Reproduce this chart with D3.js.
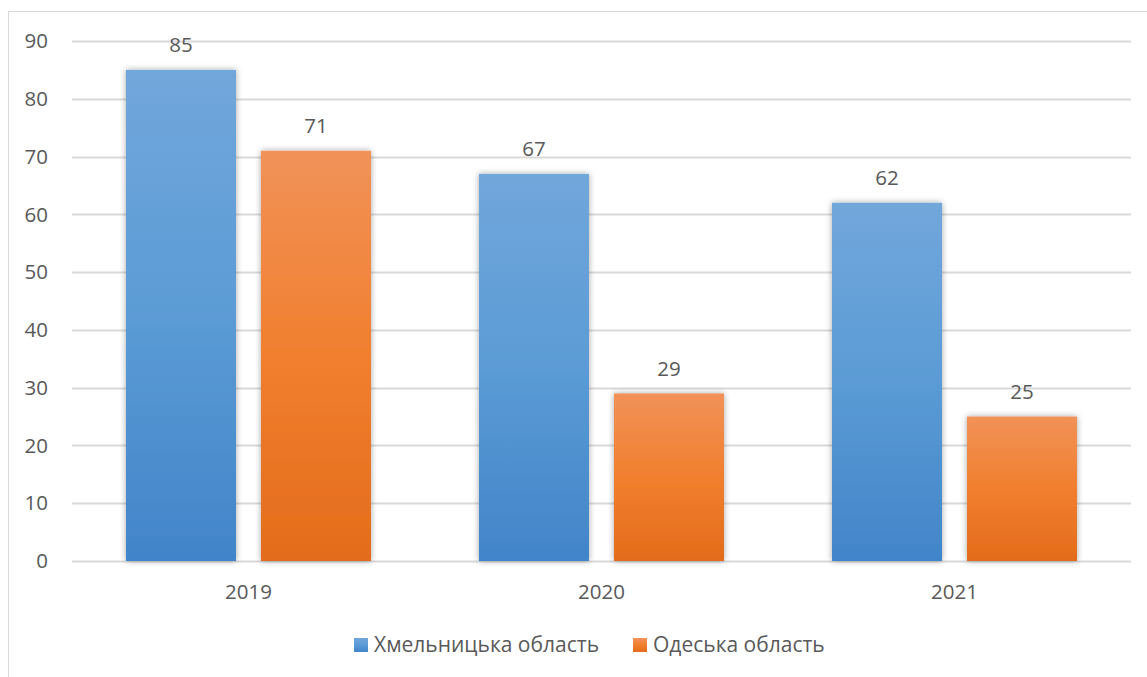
<!DOCTYPE html>
<html>
<head>
<meta charset="utf-8">
<script src="https://cdn.jsdelivr.net/npm/d3@7"></script>
<style>
  body { margin: 0; background: #fff; }
  text { font-family: "Open Sans", "Noto Sans", sans-serif; fill: #595959; }
</style>
</head>
<body>
<div id="chart"></div>
<script>
var years = ["2019", "2020", "2021"];
var seriesNames = ["Хмельницька область", "Одеська область"];
var khmelnytskyi = [85, 67, 62];
var odesa = [71, 29, 25];
var yTicks = [0, 10, 20, 30, 40, 50, 60, 70, 80, 90];

var width = 1147, height = 677;
var plotLeft = 72, plotRight = 1131, plotTop = 41, plotBottom = 561;

var svg = d3.select("#chart").append("svg")
  .attr("width", width)
  .attr("height", height);

var defs = svg.append("defs");

// gradients, light on top, darker at the base
var grads = [
  {id: "gBlue", top: "#71a7db", mid: "#5b9bd5", bot: "#4185c9"},
  {id: "gOrange", top: "#f19259", mid: "#f17f2e", bot: "#e36c1b"}
];
grads.forEach(function(g) {
  var lg = defs.append("linearGradient")
    .attr("id", g.id)
    .attr("x1", 0).attr("y1", 0).attr("x2", 0).attr("y2", 1);
  lg.append("stop").attr("offset", "0%").attr("stop-color", g.top);
  lg.append("stop").attr("offset", "50%").attr("stop-color", g.mid);
  lg.append("stop").attr("offset", "100%").attr("stop-color", g.bot);
});

var shadow = defs.append("filter")
  .attr("id", "shadow")
  .attr("x", "-20%").attr("y", "-10%")
  .attr("width", "140%").attr("height", "120%");
shadow.append("feDropShadow")
  .attr("dx", 0).attr("dy", 0)
  .attr("stdDeviation", 3)
  .attr("flood-color", "#000")
  .attr("flood-opacity", 0.35);

// outer frame (clipped right and bottom in the picture)
svg.append("rect")
  .attr("x", 8.5).attr("y", 11.5)
  .attr("width", 1160).attr("height", 700)
  .attr("fill", "none")
  .attr("stroke", "#d9d9d9")
  .attr("stroke-width", 1);

var y = d3.scaleLinear().domain([0, 90]).range([plotBottom, plotTop]);
var x0 = d3.scaleBand().domain(years).range([plotLeft, plotRight]).paddingInner(0).paddingOuter(0);
var x1 = d3.scaleBand().domain([0, 1]).range([54, x0.bandwidth() - 54]).paddingInner(25 / 135);

// gridlines
svg.append("g")
  .selectAll("line")
  .data(yTicks)
  .join("line")
  .attr("x1", plotLeft).attr("x2", plotRight)
  .attr("y1", function(d) { return Math.round(y(d)) + 0.5; })
  .attr("y2", function(d) { return Math.round(y(d)) + 0.5; })
  .attr("stroke", "#d9d9d9")
  .attr("stroke-width", 2);

// y axis labels
svg.append("g")
  .selectAll("text")
  .data(yTicks)
  .join("text")
  .attr("x", 48)
  .attr("y", function(d) { return y(d); })
  .attr("dy", "0.35em")
  .attr("text-anchor", "end")
  .style("font-size", "20.5px")
  .text(function(d) { return d; });

var allSeries = [khmelnytskyi, odesa];
var fills = ["url(#gBlue)", "url(#gOrange)"];

var groups = svg.append("g")
  .selectAll("g")
  .data(years)
  .join("g")
  .attr("transform", function(d) { return "translate(" + x0(d) + ",0)"; });

groups.selectAll("rect")
  .data(function(d, i) { return allSeries.map(function(s, j) { return {s: j, v: s[i]}; }); })
  .join("rect")
  .attr("x", function(d) { return x1(d.s); })
  .attr("y", function(d) { return y(d.v); })
  .attr("width", x1.bandwidth())
  .attr("height", function(d) { return y(0) - y(d.v); })
  .attr("fill", function(d) { return fills[d.s]; })
  .attr("filter", "url(#shadow)");

groups.selectAll("text.val")
  .data(function(d, i) { return allSeries.map(function(s, j) { return {s: j, v: s[i]}; }); })
  .join("text")
  .attr("class", "val")
  .attr("x", function(d) { return x1(d.s) + x1.bandwidth() / 2; })
  .attr("y", function(d) { return y(d.v) - 25; })
  .attr("dy", "0.35em")
  .attr("text-anchor", "middle")
  .style("font-size", "20.5px")
  .text(function(d) { return d.v; });

// x axis labels
svg.append("g")
  .selectAll("text")
  .data(years)
  .join("text")
  .attr("x", function(d) { return x0(d) + x0.bandwidth() / 2; })
  .attr("y", 592)
  .attr("dy", "0.35em")
  .attr("text-anchor", "middle")
  .style("font-size", "20.5px")
  .text(function(d) { return d; });

// legend
var legendX = [354, 633];
var leg = svg.append("g")
  .selectAll("g")
  .data(seriesNames)
  .join("g")
  .attr("transform", function(d, i) { return "translate(" + legendX[i] + ",638)"; });

leg.append("rect")
  .attr("width", 14).attr("height", 14)
  .attr("fill", function(d, i) { return fills[i]; });

leg.append("text")
  .attr("x", 20)
  .attr("y", 7)
  .attr("dy", "0.35em")
  .style("font-size", "21px")
  .text(function(d) { return d; });
</script>
</body>
</html>
